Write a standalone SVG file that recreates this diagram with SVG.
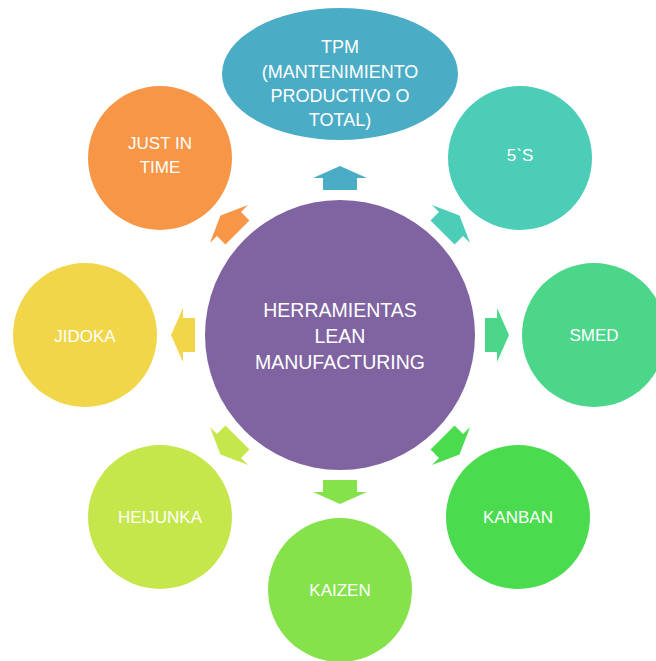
<svg xmlns="http://www.w3.org/2000/svg" width="656" height="661" viewBox="0 0 656 661">
<style>
text{font-family:"Liberation Sans",Arial,sans-serif;fill:#fff;text-anchor:middle;font-size:17px}
.big{font-size:19.5px}
.tpm{font-size:18px}
</style>
<defs>
<path id="arr" d="M-17,-145 L17,-145 L17,-157 L27,-157 L0,-169 L-27,-157 L-17,-157 Z"/>
</defs>
<rect width="656" height="661" fill="#fff"/>
<g id="connectors">
<use href="#arr" transform="translate(340 335)" fill="#4BACC6"/>
<use href="#arr" transform="translate(340 335) rotate(45)" fill="#4BCDB8"/>
<use href="#arr" transform="translate(340 335) rotate(90)" fill="#4BD68A"/>
<use href="#arr" transform="translate(340 335) rotate(135)" fill="#4ADC4E"/>
<use href="#arr" transform="translate(340 335) rotate(180)" fill="#85E24B"/>
<use href="#arr" transform="translate(340 335) rotate(225)" fill="#C5E74B"/>
<use href="#arr" transform="translate(340 335) rotate(270)" fill="#F1D64A"/>
<use href="#arr" transform="translate(340 335) rotate(315)" fill="#F79646"/>
</g>
<g id="center">
<circle cx="340" cy="335" r="135" fill="#8064A2"/>
<text class="big" x="340" y="317">HERRAMIENTAS</text>
<text class="big" x="340" y="343">LEAN</text>
<text class="big" x="340" y="369">MANUFACTURING</text>
</g>
<g id="tpm">
<ellipse cx="340" cy="74" rx="118" ry="66" fill="#4BACC6"/>
<text class="tpm" x="340" y="53">TPM</text>
<text class="tpm" x="340" y="78">(MANTENIMIENTO</text>
<text class="tpm" x="340" y="102">PRODUCTIVO O</text>
<text class="tpm" x="340" y="126">TOTAL)</text>
</g>
<g id="s5">
<circle cx="520" cy="158" r="72" fill="#4BCDB8"/>
<text x="520" y="161">5`S</text>
</g>
<g id="smed">
<circle cx="594" cy="335" r="72" fill="#4BD68A"/>
<text x="594" y="341">SMED</text>
</g>
<g id="kanban">
<circle cx="518" cy="517" r="72" fill="#4ADC4E"/>
<text x="518" y="523">KANBAN</text>
</g>
<g id="kaizen">
<circle cx="340" cy="590" r="72" fill="#85E24B"/>
<text x="340" y="596">KAIZEN</text>
</g>
<g id="heijunka">
<circle cx="160" cy="517" r="72" fill="#C5E74B"/>
<text x="160" y="523">HEIJUNKA</text>
</g>
<g id="jidoka">
<circle cx="85" cy="335" r="72" fill="#F1D64A"/>
<text x="85" y="342">JIDOKA</text>
</g>
<g id="jit">
<circle cx="160" cy="158" r="72" fill="#F79646"/>
<text x="160" y="149">JUST IN</text>
<text x="160" y="173">TIME</text>
</g>
</svg>
